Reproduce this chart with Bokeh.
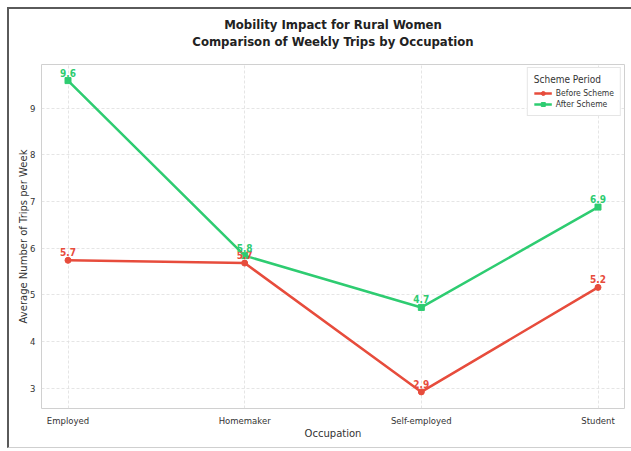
from bokeh.plotting import figure
from bokeh.layouts import column
from bokeh.models import (ColumnDataSource, LabelSet, Legend, LegendItem, Title,
                          FixedTicker, Range1d)
from bokeh.core.properties import value
from bokeh.embed import file_html
from bokeh.resources import INLINE

# Weekly trips per occupation, before and after the scheme
occupations = ["Employed", "Homemaker", "Self-employed", "Student"]
before_scheme = [5.74, 5.68, 2.92, 5.16]
after_scheme = [9.59, 5.84, 4.73, 6.88]
y_ticks = [3, 4, 5, 6, 7, 8, 9]

RED = "#e74c3c"
GREEN = "#2ecc71"
FONT = "DejaVu Sans"
TITLE_FONT = "DejaVu Sans Condensed"

xs = list(range(len(occupations)))
src_before = ColumnDataSource(dict(x=xs, y=before_scheme,
                                   lbl=[f"{v:.1f}" for v in before_scheme]))
src_after = ColumnDataSource(dict(x=xs, y=after_scheme,
                                  lbl=[f"{v:.1f}" for v in after_scheme]))

p = figure(width=622, height=438,
           x_range=Range1d(-0.15, 3.15), y_range=Range1d(2.565, 9.935),
           output_backend="svg", toolbar_location=None,
           min_border_left=32, min_border_right=7,
           min_border_top=55, min_border_bottom=39)
p.background_fill_color = "white"
p.border_fill_color = "white"
p.outline_line_color = "#d0d0d0"
p.outline_line_width = 1

# Two-line bold title; the title added first sits closest to the plot,
# so an empty spacer goes in before the two text lines
p.title = None
p.add_layout(Title(text=" ", text_font_size="9px", standoff=4), "above")
title_lines = ["Mobility Impact for Rural Women",
               "Comparison of Weekly Trips by Occupation"]
for txt, gap in ((title_lines[1], 0), (title_lines[0], 0)):
    p.add_layout(Title(text=txt, align="center", text_font=TITLE_FONT,
                       text_font_size="13px", text_font_style="bold",
                       text_color="#222222", text_line_height=1.0,
                       standoff=gap), "above")

# Axes
p.xaxis.ticker = FixedTicker(ticks=xs)
p.xaxis.major_label_overrides = {i: name for i, name in enumerate(occupations)}
p.yaxis.ticker = FixedTicker(ticks=y_ticks)
for ax in (p.xaxis[0], p.yaxis[0]):
    ax.axis_line_color = None
    ax.major_tick_line_color = None
    ax.minor_tick_line_color = None
    ax.major_tick_out = 0
    ax.major_tick_in = 0
    ax.minor_tick_out = 0
    ax.minor_tick_in = 0
    ax.major_label_text_font = FONT
    ax.major_label_text_font_size = "8.5px"
    ax.major_label_text_color = "#333333"
    ax.axis_label_text_font = FONT
    ax.axis_label_text_font_size = "10px"
    ax.axis_label_text_font_style = "normal"
    ax.axis_label_text_color = "#333333"
p.xaxis.axis_label = "Occupation"
p.yaxis.axis_label = "Average Number of Trips per Week"
p.xaxis.major_label_standoff = 7
p.xaxis.axis_label_standoff = -1
p.yaxis.major_label_standoff = 6
p.yaxis.axis_label_standoff = -2

# Grid
p.xgrid.grid_line_color = "#dedede"
p.ygrid.grid_line_color = "#dedede"
p.xgrid.grid_line_dash = "3 2"
p.ygrid.grid_line_dash = "3 2"
p.xgrid.grid_line_width = 0.8
p.ygrid.grid_line_width = 0.8

# Series
l1 = p.line("x", "y", source=src_before, line_color=RED, line_width=2.5)
m1 = p.scatter("x", "y", source=src_before, marker="circle", size=6,
               fill_color=RED, line_color=RED)
l2 = p.line("x", "y", source=src_after, line_color=GREEN, line_width=2.5)
m2 = p.scatter("x", "y", source=src_after, marker="square", size=6,
               fill_color=GREEN, line_color=GREEN)

# Value labels above each point
for src, col in ((src_before, RED), (src_after, GREEN)):
    p.add_layout(LabelSet(x="x", y="y", text="lbl", source=src,
                          text_align="center", text_baseline="bottom",
                          y_offset=4, text_font=value(TITLE_FONT),
                          text_font_size=value("10px"),
                          text_font_style="bold", text_color=col))

legend = Legend(items=[LegendItem(label="Before Scheme", renderers=[l1, m1]),
                       LegendItem(label="After Scheme", renderers=[l2, m2])],
                location="top_right", title="Scheme Period")
legend.title_text_font = TITLE_FONT
legend.title_text_font_size = "10px"
legend.title_text_font_style = "normal"
legend.title_text_color = "#333333"
legend.title_standoff = 3
legend.label_text_font = TITLE_FONT
legend.label_text_font_size = "8.5px"
legend.label_text_color = "#333333"
legend.glyph_width = 18
legend.glyph_height = 10
legend.label_height = 10
legend.label_standoff = 4
legend.spacing = 1
legend.padding = 6
legend.margin = 3
legend.border_line_color = "#cccccc"
legend.background_fill_alpha = 1.0
p.add_layout(legend)

# Outer frame around the figure
root = column(p, margin=(7, 0, 0, 7),
              styles={"border-top": "2px solid #5a5a5a",
                      "border-left": "2px solid #5a5a5a",
                      "border-bottom": "1px solid #cfcfcf",
                      "border-right": "none",
                      "overflow": "hidden"})

open("out.html", "w").write(file_html(root, INLINE))
